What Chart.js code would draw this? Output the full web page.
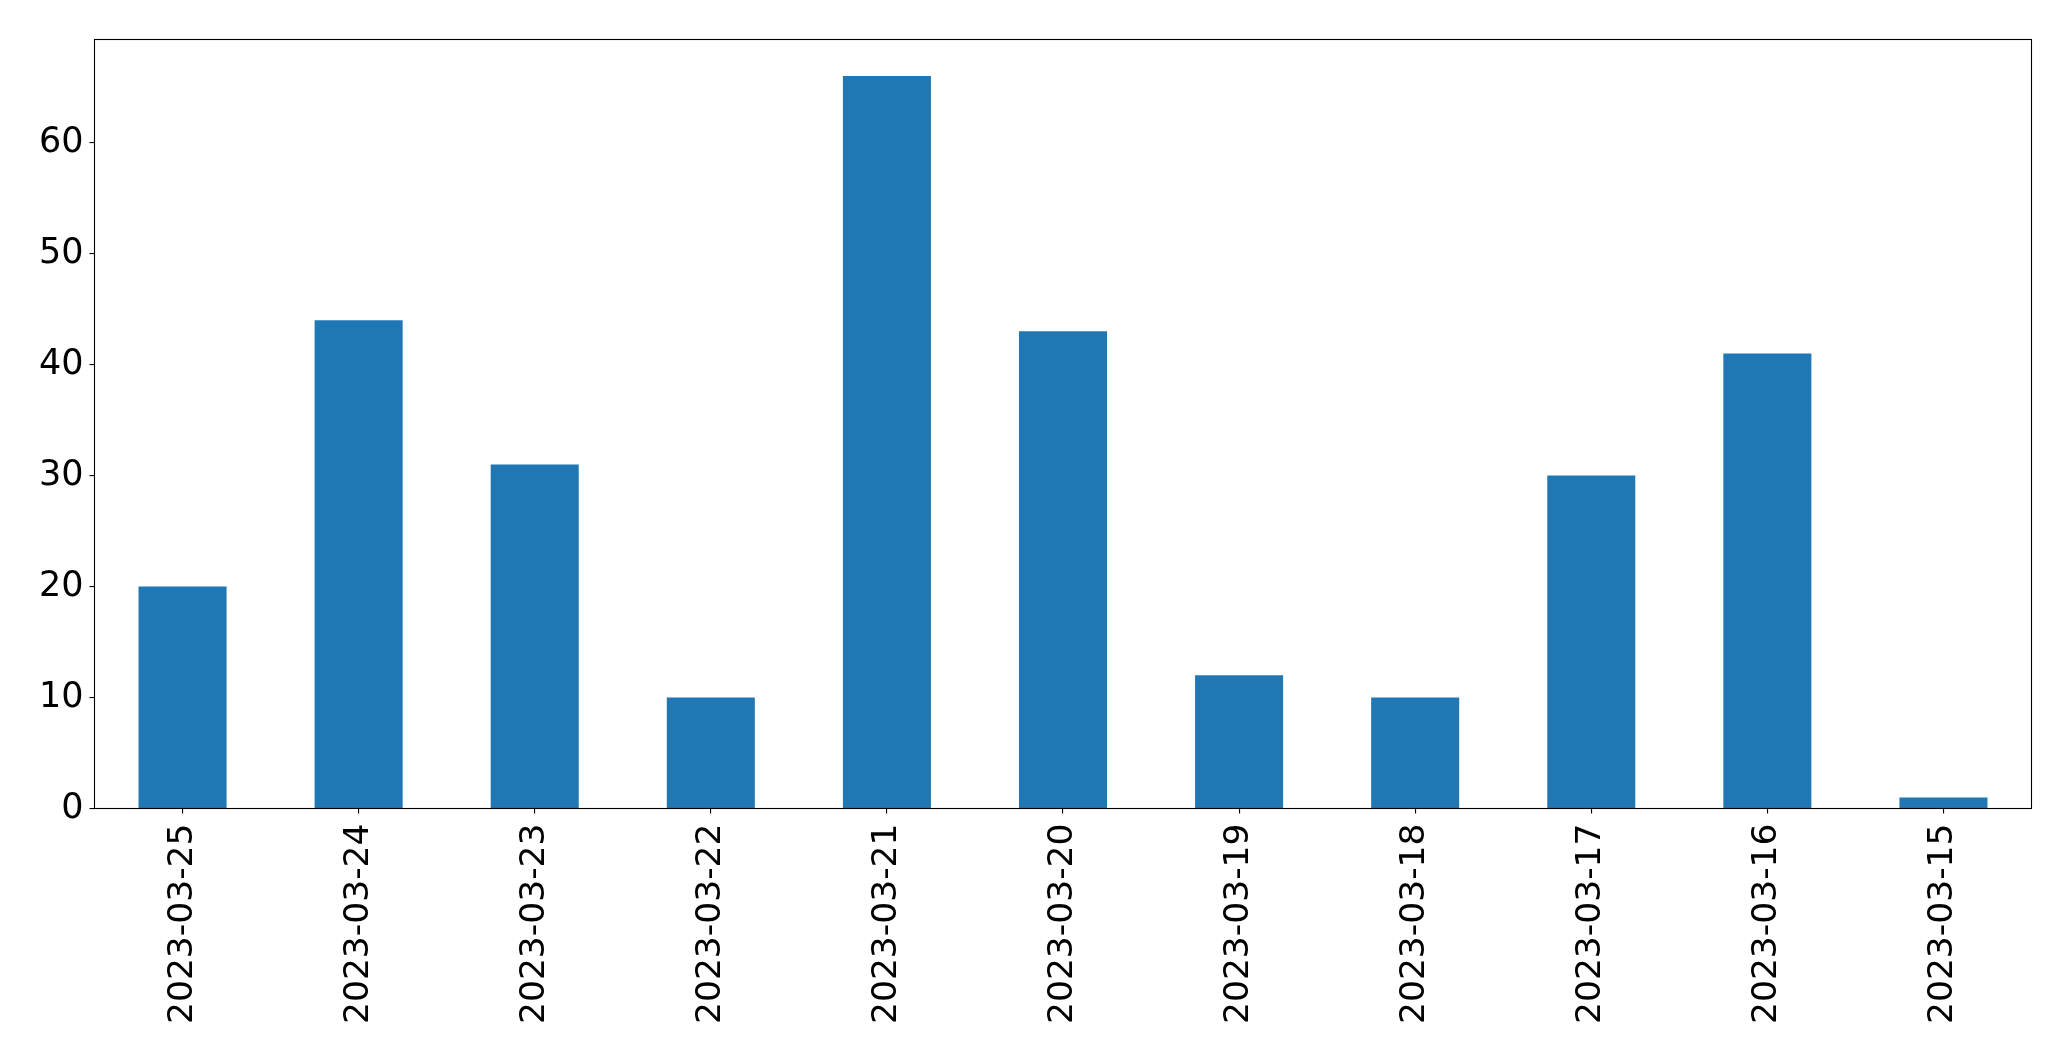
<!DOCTYPE html>
<html>
<head>
<meta charset="utf-8">
<script src="https://cdn.jsdelivr.net/npm/chart.js@4/dist/chart.umd.min.js"></script>
<style>
  html, body { margin: 0; padding: 0; background: #fff; }
  #wrap { width: 2071px; height: 1061px; }
</style>
</head>
<body>
<div id="wrap"><canvas id="chart" width="2071" height="1061"></canvas></div>
<script>
// dates are in the order shown (newest first)
const dates = ['2023-03-25', '2023-03-24', '2023-03-23', '2023-03-22', '2023-03-21', '2023-03-20',
  '2023-03-19', '2023-03-18', '2023-03-17', '2023-03-16', '2023-03-15'];
const counts = [20, 44, 31, 10, 66, 43, 12, 10, 30, 41, 1];
const yTicks = [0, 10, 20, 30, 40, 50, 60];
const yMax = 69.3;

// matplotlib-style closed frame around the plot area
const frame = {
  id: 'frame',
  afterDraw(chart) {
    const { ctx, chartArea: a } = chart;
    ctx.save();
    ctx.strokeStyle = '#000';
    ctx.lineWidth = 1.1;
    ctx.strokeRect(a.left, a.top, a.right - a.left, a.bottom - a.top);
    ctx.restore();
  }
};

const font = { family: 'DejaVu Sans', size: 35 };

new Chart(document.getElementById('chart'), {
  type: 'bar',
  data: {
    labels: dates,
    datasets: [{
      data: counts,
      backgroundColor: '#1f77b4',
      borderWidth: 0,
      categoryPercentage: 1.0,
      barPercentage: 0.5
    }]
  },
  options: {
    responsive: false,
    animation: false,
    layout: { padding: { top: 39.5, right: 39.5, left: 0, bottom: 0 } },
    plugins: { legend: { display: false }, tooltip: { enabled: false } },
    scales: {
      x: {
        offset: true,
        grid: { display: true, drawOnChartArea: false, offset: false, color: '#000', lineWidth: 1.1, tickLength: 5 },
        border: { display: false },
        ticks: { color: '#000', font: { family: 'DejaVu Sans', size: 34.5 }, minRotation: 90, maxRotation: 90, padding: 10, autoSkip: false },
        afterFit: s => { s.height = 1061 - 808.5; }
      },
      y: {
        min: 0,
        max: yMax,
        grid: { display: true, drawOnChartArea: false, color: '#000', lineWidth: 1.1, tickLength: 5 },
        border: { display: false },
        ticks: { color: '#000', font, padding: 6 },
        afterBuildTicks: s => { s.ticks = yTicks.map(v => ({ value: v })); },
        afterFit: s => { s.width = 94.5; }
      }
    }
  },
  plugins: [frame]
});
</script>
</body>
</html>
